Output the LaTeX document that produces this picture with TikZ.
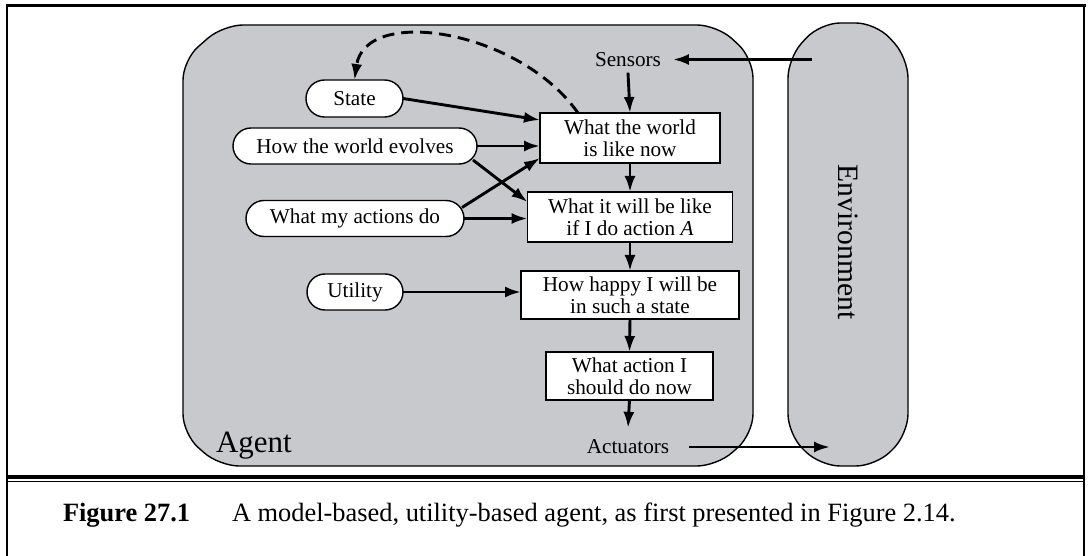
\documentclass[tikz,border=0pt]{standalone}
\usepackage{fontspec}
\setmainfont{Liberation Serif}
\usetikzlibrary{arrows.meta,shapes.misc}
\definecolor{agentgray}{RGB}{200,201,204}
\begin{document}
\begin{tikzpicture}[x=0.5pt,y=-0.5pt,
  every node/.style={inner sep=0pt, outer sep=0pt},
  txt/.style={font=\fontsize{10.6}{11.2}\selectfont},
  box/.style={txt, draw=black, line width=0.9pt, fill=white, align=center},
  pill/.style={txt, draw=black, line width=0.7pt, fill=white, rounded rectangle, minimum height=18pt},
  arr/.style={line width=1.45pt, -{Latex[length=8pt,width=5.5pt]}},
  shell/.style={draw=black, line width=0.7pt, fill=agentgray, rounded corners=10pt},
  bigtxt/.style={font=\fontsize{15.5}{18}\selectfont},
  envtxt/.style={font=\fontsize{14.8}{17}\selectfont},
  captxt/.style={font=\fontsize{13.2}{15}\selectfont}
]
\useasboundingbox (0,0) rectangle (1089,556);

% outer frame
\draw[line width=1.1pt, line cap=rect] (7,556) -- (7,6);
\draw[line width=1.1pt, line cap=rect] (1084,556) -- (1084,6);
\draw[line width=1.5pt, line cap=rect] (7,6) -- (1084,6);
\draw[line width=1.6pt] (7,477) -- (1084,477);
\draw[line width=0.9pt] (7,481.5) -- (1084,481.5);

% agent and environment shells
\draw[shell] (183,60) -- (223,25) -- (717,25) -- (753,58) -- (753,434) -- (717,466) -- (219,466) -- (183,434) -- cycle;
\draw[shell] (788,58) -- (820,23) -- (876,23) -- (908,58) -- (908,434) -- (876,466) -- (820,466) -- (788,434) -- cycle;

\node[envtxt, rotate=-90] (envlabel) at (848,242) {Environment};
\node[bigtxt, anchor=base west] (agentlabel) at (216,452) {Agent};

% labels
\node[txt, inner xsep=6pt, inner ysep=3pt] (sensors) at (628,59.5) {Sensors};
\node[txt, inner xsep=10pt, inner ysep=6pt] (act) at (628,447) {Actuators};
\coordinate (senssrc) at (812,59.5);
\coordinate (acttgt) at (830,449);

% boxes
\node[box, minimum width=90pt, minimum height=25pt] (now) at (630,138) {What the world\\is like now};
\node[box, minimum width=102.5pt, minimum height=25pt] (will) at (630,217) {What it will be like\\if I do action \textit{A}};
\node[box, minimum width=109pt, minimum height=24pt] (happy) at (630,295) {How happy I will be\\in such a state};
\node[box, minimum width=83.5pt, minimum height=24pt] (what) at (629.5,376) {What action I\\should do now};

% pills
\node[pill, minimum width=48.5pt, minimum height=18.5pt] (state) at (354.5,98.5) {State};
\node[pill, minimum width=122pt] (evolves) at (355,146) {How the world evolves};
\node[pill, minimum width=109pt] (actions) at (355,218.5) {What my actions do};
\node[pill, minimum width=48pt] (utility) at (355,292) {Utility};

% arrows
\draw[arr] (senssrc) -- (sensors.east);
\draw[arr] (sensors.south) -- (now.north);
\draw[arr] (now.south) -- (will.north);
\draw[arr] (will.south) -- (happy.north);
\draw[arr] (happy.south) -- (what.north);
\draw[arr] (what.south) -- (act.north);
\draw[arr] (act.east) -- (act.east -| acttgt);

\draw[arr] (state.east) -- ([yshift=9pt]now.west);
\draw[arr] (evolves.east) -- (evolves.east -| now.west);
\draw[arr] ([xshift=-2pt,yshift=-7pt]evolves.east) -- ([yshift=7.5pt]will.west);
\draw[arr] ([xshift=-1pt,yshift=5.5pt]actions.east) -- ([yshift=-10pt]now.west);
\draw[arr] (actions.east) -- (actions.east -| will.west);
\draw[arr] (utility.east) -- (utility.east -| happy.west);

\draw[arr, dash pattern=on 6pt off 3.5pt] ([xshift=-26pt]now.north) .. controls (520,30) and (365,5) .. (state.north);

% caption
\node[captxt, font=\fontsize{13.2}{15}\selectfont\bfseries, anchor=base west] (fig) at (63,521) {Figure 27.1};
\node[captxt, anchor=base west] (cap) at (232,521) {A model-based, utility-based agent, as first presented in Figure 2.14.};
\end{tikzpicture}
\end{document}
